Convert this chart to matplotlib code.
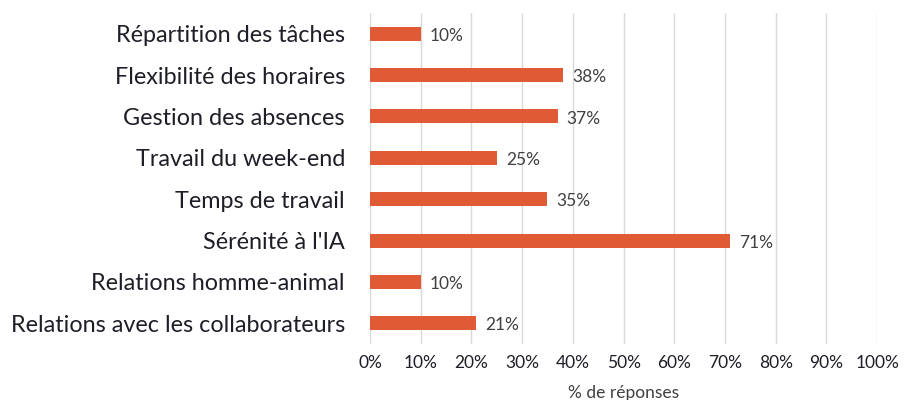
import matplotlib
matplotlib.use("Agg")
import matplotlib.pyplot as plt
from matplotlib.ticker import FuncFormatter

categories = ["Répartition des tâches", "Flexibilité des horaires", "Gestion des absences",
              "Travail du week-end", "Temps de travail", "Sérénité à l'IA",
              "Relations homme-animal", "Relations avec les collaborateurs"]
values = [10, 38, 37, 25, 35, 71, 10, 21]
xticks = [0, 10, 20, 30, 40, 50, 60, 70, 80, 90, 100]

plt.rcParams['font.family'] = ['Lato', 'DejaVu Sans']
fig = plt.figure(figsize=(9.09, 4.0), dpi=100)
ax = fig.add_axes([0.407, 0.14, 0.558, 0.8275])

ypos = list(range(len(categories)))
ax.barh(ypos, values, height=0.34, color="#E05B35", zorder=3)
for y, v in zip(ypos, values):
    ax.text(v + 1.8, y + 0.05, f"{v}%", va="center", ha="left", fontsize=12.5, color="#404040")

ax.set_yticks(ypos)
ax.set_yticklabels(categories, fontsize=16.8, color="#1e1e28")
ax.set_ylim(len(categories) - 0.5, -0.5)
ax.set_xlim(0, 100)
ax.set_xticks(xticks)
ax.xaxis.set_major_formatter(FuncFormatter(lambda v, p: f"{int(v)}%"))
ax.tick_params(axis="x", labelsize=12.5, labelcolor="#1e1e28", length=0, pad=8)
ax.tick_params(axis="y", length=0, pad=18)
ax.grid(axis="x", color="#d9d9d9", linewidth=1, zorder=0)
for s in ax.spines.values():
    s.set_visible(False)
ax.set_xlabel("% de réponses", fontsize=12.5, color="#404040", labelpad=10)

fig.savefig("out.png", dpi=100)
